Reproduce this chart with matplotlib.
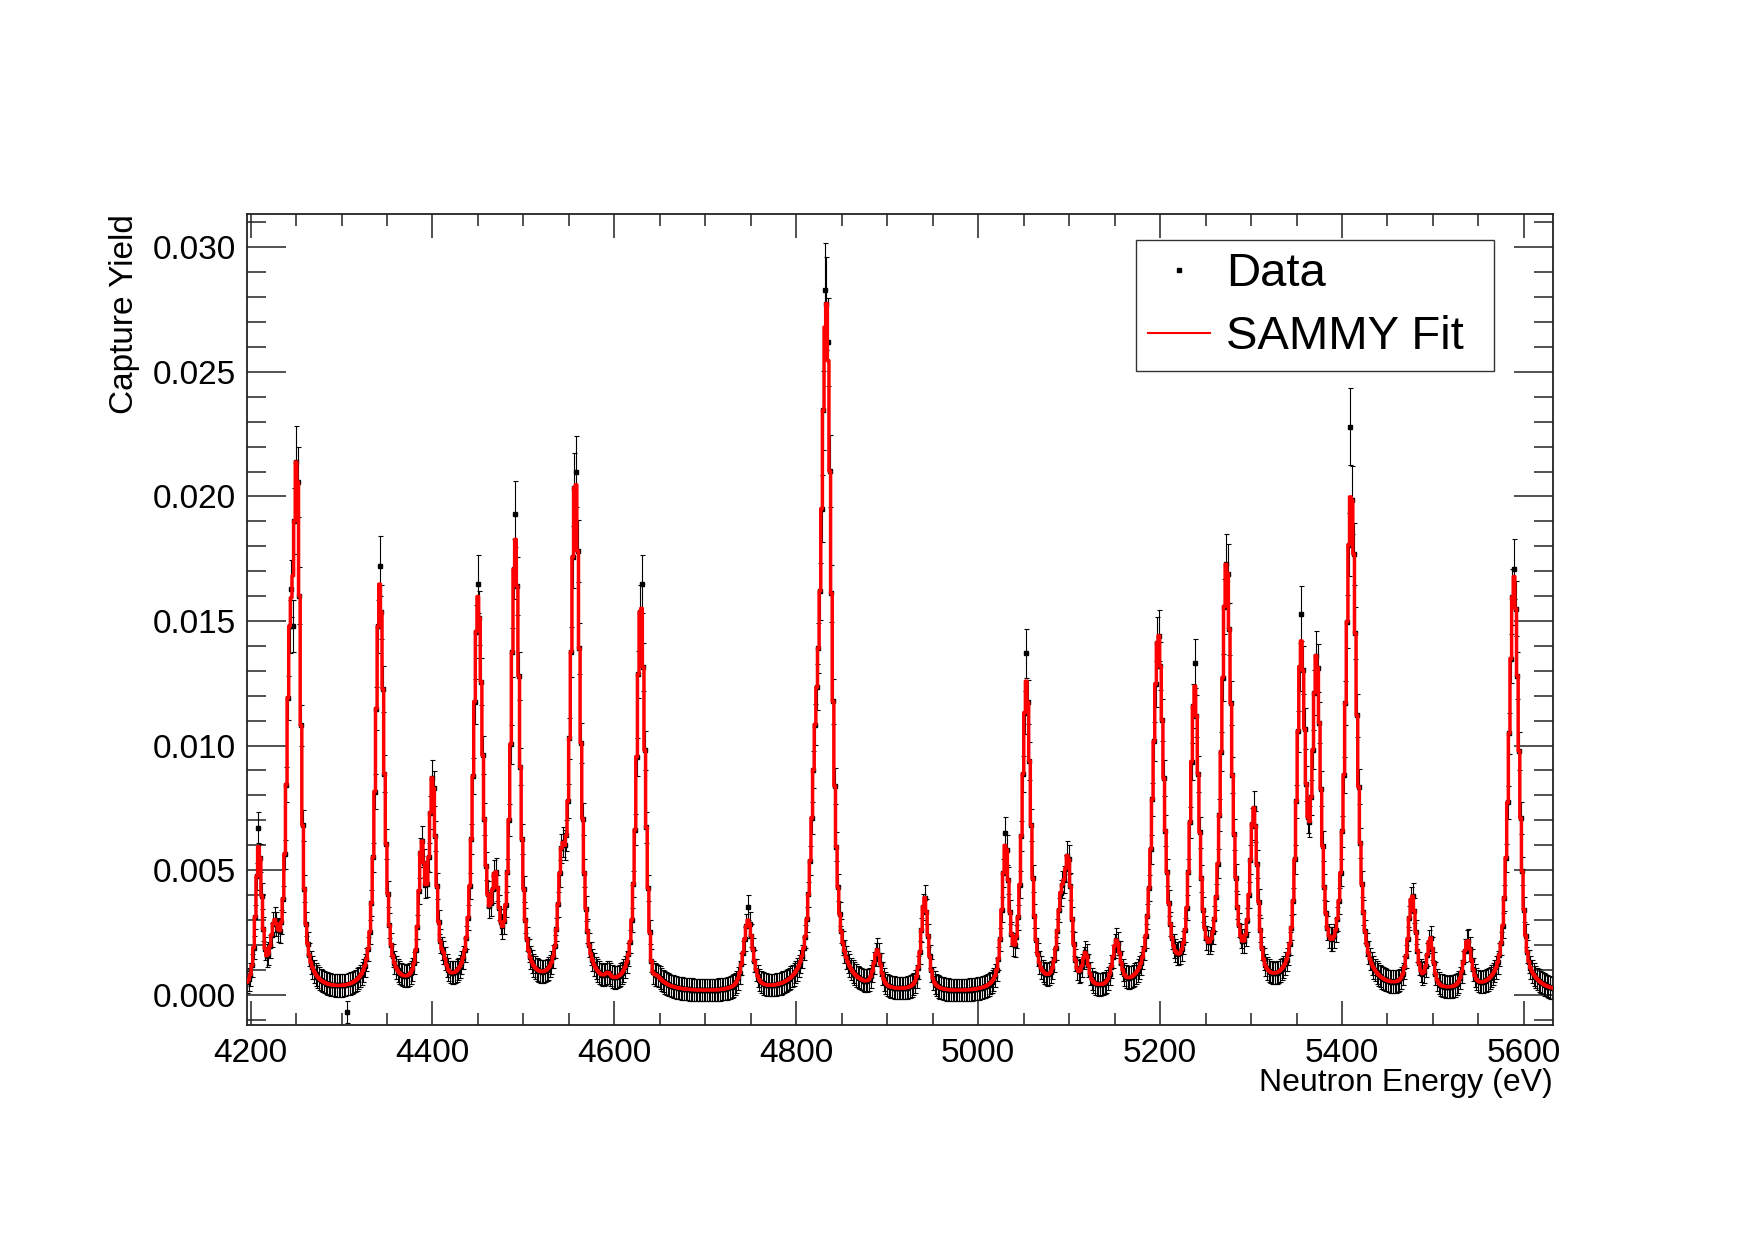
import numpy as np
import matplotlib
matplotlib.use("Agg")
import matplotlib.pyplot as plt
from matplotlib.lines import Line2D
from matplotlib.ticker import MultipleLocator, FormatStrFormatter

plt.rcParams['font.family'] = ['Liberation Sans', 'DejaVu Sans']

# Resonances: energy (eV), peak yield of the fit, width (eV)
res_energy = [4209, 4226, 4243, 4251, 4342, 4388, 4400, 4412, 4450, 4469,
              4491, 4542, 4557, 4593, 4629, 4641, 4747, 4821, 4833, 4889,
              4941, 5030, 5053, 5091, 5099, 5118, 5152, 5198, 5238, 5273,
              5303, 5355, 5372, 5410, 5477, 5497, 5538, 5589, 5603]
res_height = [0.0060, 0.0030, 0.0150, 0.0215, 0.0165, 0.0062, 0.0088, 0.0017, 0.0160, 0.0050,
              0.0183, 0.0060, 0.0208, 0.0009, 0.0158, 0.0012, 0.0030, 0.0112, 0.0278, 0.0018,
              0.0039, 0.0061, 0.0126, 0.0042, 0.0056, 0.0017, 0.0022, 0.0145, 0.0124, 0.0174,
              0.0075, 0.0142, 0.0137, 0.0202, 0.0040, 0.0023, 0.0022, 0.0168, 0.0019]
res_width = [8, 10, 9, 9, 11, 8, 9, 7, 12, 9,
             11, 9, 12, 7, 11, 7, 12, 12, 13, 9,
             9, 9, 11, 10, 9, 8, 10, 14, 11, 13,
             10, 11, 11, 14, 10, 8, 10, 13, 11]
lorentz_frac = 0.6
background = 0.0

# Data points that sit visibly off the fit: energy (eV), yield
off_energy = [4209, 4244, 4246, 4305, 4342, 4450, 4491, 4557, 4629, 4747,
              4831, 4835, 5030, 5053, 5238, 5273, 5355, 5410, 5589]
off_yield = [0.0067, 0.0163, 0.0148, -0.0007, 0.0172, 0.0165, 0.0193, 0.0210, 0.0165, 0.0035,
             0.0283, 0.0262, 0.0065, 0.0137, 0.0133, 0.0173, 0.0153, 0.0228, 0.0171]

# Uncertainty: floor at the baseline and relative part near the peaks
err_floor = 0.00045
err_rel = 0.065

energy = np.arange(4196.0, 5632.0, 1.8)

E0 = np.array(res_energy, float)
W = np.array(res_width, float)


def shape(e, e0, w):
    x = (e - e0) / (w / 2.0)
    return lorentz_frac / (1.0 + x ** 2) + (1 - lorentz_frac) * np.exp(-np.log(2) * x ** 2)


# amplitudes so that the summed curve passes through the read peak heights
M = shape(E0[:, None], E0[None, :], W[None, :])
amp = np.linalg.solve(M, np.array(res_height) - background)
fit = background + (amp[None, :] * shape(energy[:, None], E0[None, :], W[None, :])).sum(axis=1)

data = fit.copy()
for e, y in zip(off_energy, off_yield):
    data[np.argmin(np.abs(energy - e))] = y
err = np.sqrt(err_floor ** 2 + (err_rel * np.clip(data, 0, None)) ** 2)

fig = plt.figure(figsize=(17.54, 12.41), dpi=100)
ax = fig.add_axes([0.1408, 0.1744, 0.7446, 0.6534])

ax.errorbar(energy, data, yerr=err, fmt='s', color='black', ms=2.2, lw=0.8,
            capsize=1.8, capthick=0.8, zorder=2)
ax.plot(energy, fit, color='red', lw=2.5, drawstyle='steps-mid', zorder=3)

ax.set_xlim(4196, 5632)
ax.set_ylim(-0.0012, 0.03135)
ax.xaxis.set_major_locator(MultipleLocator(200))
ax.xaxis.set_minor_locator(MultipleLocator(50))
ax.yaxis.set_major_locator(MultipleLocator(0.005))
ax.yaxis.set_minor_locator(MultipleLocator(0.001))
ax.yaxis.set_major_formatter(FormatStrFormatter('%.3f'))

ax.tick_params(which='both', direction='in', top=True, right=True,
               labelsize=24, width=1.1, color='#222222')
ax.tick_params(axis='x', which='major', length=17, pad=10)
ax.tick_params(axis='x', which='minor', length=8.5)
ax.tick_params(axis='y', which='major', length=28, pad=8)
ax.tick_params(axis='y', which='minor', length=14)
for s in ax.spines.values():
    s.set_linewidth(1.3)
    s.set_color('#222222')

ax.set_xlabel('Neutron Energy (eV)', fontsize=23, loc='right', labelpad=-1)
ax.set_ylabel('Capture Yield', fontsize=24, loc='top', labelpad=9)

handles = [Line2D([], [], marker='s', ms=2.5, ls='none', color='black'),
           Line2D([], [], color='red', lw=1.5)]
leg = ax.legend(handles, ['Data', 'SAMMY Fit'], loc='upper left',
                bbox_to_anchor=(0.681, 0.967, 0.274, 0.0), mode='expand',
                fontsize=34, frameon=True,
                fancybox=False, edgecolor='black', borderpad=0.25,
                labelspacing=0.4, handlelength=1.3, handletextpad=0.35,
                borderaxespad=0)
leg.get_frame().set_linewidth(1.0)

fig.savefig('out.png', dpi=100, facecolor='white')
